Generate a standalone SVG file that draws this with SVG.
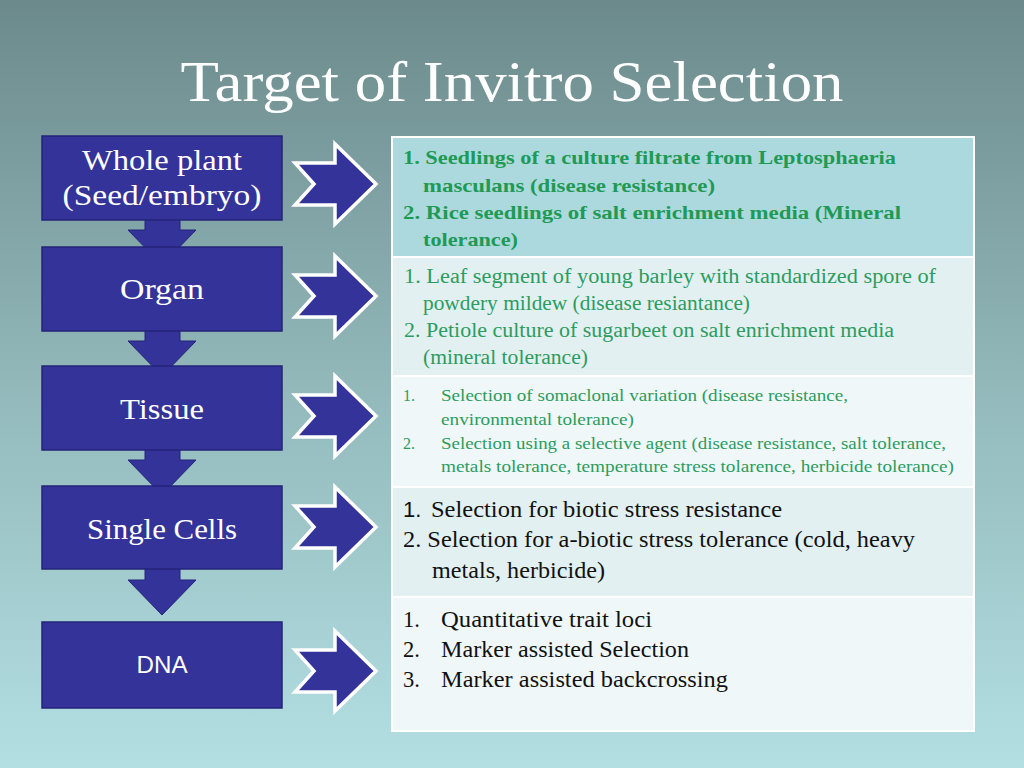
<svg xmlns="http://www.w3.org/2000/svg" width="1024" height="768" viewBox="0 0 1024 768">
<defs>
<linearGradient id="bg" x1="0" y1="0" x2="0" y2="1">
<stop offset="0" stop-color="#6c8a8c"/>
<stop offset="0.5" stop-color="#92b8ba"/>
<stop offset="1" stop-color="#b3dfe3"/>
</linearGradient>
<style>
.box{fill:#333399;stroke:#24247a;stroke-width:1.5}
.down{fill:#333399;stroke:#24247a;stroke-width:1}
.rarr{fill:#333399;stroke:#ffffff;stroke-width:3.5;stroke-linejoin:miter}
.lbl{font-family:"Liberation Serif",serif;font-size:30px;fill:#ffffff;text-anchor:middle}
.lbls{font-family:"Liberation Sans",sans-serif;font-size:23px;fill:#ffffff;text-anchor:middle}
.g1{font-family:"Liberation Serif",serif;font-size:19px;font-weight:bold;fill:#1f9a55}
.g2{font-family:"Liberation Serif",serif;font-size:20px;fill:#2c9c60}
.g3{font-family:"Liberation Serif",serif;font-size:16px;fill:#2c9c60}
.k{font-family:"Liberation Serif",serif;font-size:22.5px;fill:#111111}
.ks{font-family:"Liberation Sans",sans-serif;font-size:22px;fill:#111111}
.cell{stroke:#ffffff;stroke-width:2}
</style>
</defs>
<rect x="0" y="0" width="1024" height="768" fill="url(#bg)"/>
<text x="512" y="101" font-family="Liberation Serif, serif" font-size="57" fill="#ffffff" text-anchor="middle" textLength="663" lengthAdjust="spacingAndGlyphs">Target of Invitro Selection</text>

<g id="connectors">
<polygon class="down" points="145,219 180,219 180,230 196,230 162,265 128,230 145,230"/>
<polygon class="down" points="145,330 180,330 180,341 196,341 162,376 128,341 145,341"/>
<polygon class="down" points="145,449 180,449 180,460 196,460 162,495 128,460 145,460"/>
<polygon class="down" points="145,568 180,568 180,580 196,580 162,615 128,580 145,580"/>
<polygon class="rarr" points="295,163 335,163 335,144 376,184 335,224 335,205 295,205 314,184"/>
<polygon class="rarr" points="295,275 335,275 335,256 376,296 335,336 335,317 295,317 314,296"/>
<polygon class="rarr" points="295,395 335,395 335,376 376,416 335,456 335,437 295,437 314,416"/>
<polygon class="rarr" points="295,506 335,506 335,487 376,527 335,567 335,548 295,548 314,527"/>
<polygon class="rarr" points="295,650 335,650 335,631 376,671 335,711 335,692 295,692 314,671"/>
</g>

<g id="node-whole-plant">
<rect class="box" x="42" y="136" width="240" height="84"/>
<text class="lbl" x="162" y="170" textLength="160" lengthAdjust="spacingAndGlyphs">Whole plant</text>
<text class="lbl" x="162" y="205" textLength="199" lengthAdjust="spacingAndGlyphs">(Seed/embryo)</text>
</g>
<g id="node-organ">
<rect class="box" x="42" y="247" width="240" height="84"/>
<text class="lbl" x="162" y="299" textLength="84" lengthAdjust="spacingAndGlyphs">Organ</text>
</g>
<g id="node-tissue">
<rect class="box" x="42" y="366" width="240" height="84"/>
<text class="lbl" x="162" y="419" textLength="84" lengthAdjust="spacingAndGlyphs">Tissue</text>
</g>
<g id="node-single-cells">
<rect class="box" x="42" y="486" width="240" height="83"/>
<text class="lbl" x="162" y="539" textLength="150" lengthAdjust="spacingAndGlyphs">Single Cells</text>
</g>
<g id="node-dna">
<rect class="box" x="42" y="622" width="240" height="86"/>
<text class="lbls" x="162" y="673" textLength="51" lengthAdjust="spacingAndGlyphs">DNA</text>
</g>

<g id="table">
<rect class="cell" x="392" y="137" width="582" height="120" fill="#acd9dd"/>
<rect class="cell" x="392" y="257" width="582" height="119" fill="#e2f0f1"/>
<rect class="cell" x="392" y="376" width="582" height="111" fill="#eff7f8"/>
<rect class="cell" x="392" y="487" width="582" height="110" fill="#e2f0f1"/>
<rect class="cell" x="392" y="597" width="582" height="134" fill="#eff7f8"/>
</g>

<g id="row-whole-plant">
<text class="g1" x="403" y="164" textLength="493" lengthAdjust="spacingAndGlyphs">1. Seedlings of  a culture filtrate from Leptosphaeria</text>
<text class="g1" x="423" y="192" textLength="292" lengthAdjust="spacingAndGlyphs">masculans (disease resistance)</text>
<text class="g1" x="403" y="219" textLength="498" lengthAdjust="spacingAndGlyphs">2. Rice seedlings of  salt enrichment media (Mineral</text>
<text class="g1" x="423" y="246" textLength="95" lengthAdjust="spacingAndGlyphs">tolerance)</text>
</g>
<g id="row-organ">
<text class="g2" x="404" y="283" textLength="532" lengthAdjust="spacingAndGlyphs">1. Leaf  segment of  young barley  with standardized spore of</text>
<text class="g2" x="423" y="310" textLength="327" lengthAdjust="spacingAndGlyphs">powdery mildew (disease resiantance)</text>
<text class="g2" x="404" y="337" textLength="490" lengthAdjust="spacingAndGlyphs">2. Petiole culture of  sugarbeet on salt enrichment media</text>
<text class="g2" x="423" y="364" textLength="165" lengthAdjust="spacingAndGlyphs">(mineral tolerance)</text>
</g>
<g id="row-tissue">
<text class="g3" x="403" y="401">1.</text>
<text class="g3" x="441" y="401" textLength="407" lengthAdjust="spacingAndGlyphs">Selection of  somaclonal variation (disease resistance,</text>
<text class="g3" x="441" y="425" textLength="193" lengthAdjust="spacingAndGlyphs">environmental tolerance)</text>
<text class="g3" x="403" y="449">2.</text>
<text class="g3" x="441" y="449" textLength="505" lengthAdjust="spacingAndGlyphs">Selection using a selective agent (disease resistance, salt tolerance,</text>
<text class="g3" x="441" y="472" textLength="513" lengthAdjust="spacingAndGlyphs">metals tolerance, temperature stress tolarence, herbicide tolerance)</text>
</g>
<g id="row-single-cells">
<text class="ks" x="403" y="517">1.</text>
<text class="k" x="431" y="517" textLength="351" lengthAdjust="spacingAndGlyphs">Selection for biotic stress resistance</text>
<text class="k" x="403" y="547" textLength="512" lengthAdjust="spacingAndGlyphs">2. Selection for a-biotic stress tolerance (cold, heavy</text>
<text class="k" x="432" y="578" textLength="173" lengthAdjust="spacingAndGlyphs">metals, herbicide)</text>
</g>
<g id="row-dna">
<text class="k" x="403" y="627">1.</text>
<text class="k" x="441" y="627" textLength="211" lengthAdjust="spacingAndGlyphs">Quantitative trait loci</text>
<text class="k" x="403" y="657">2.</text>
<text class="k" x="441" y="657" textLength="248" lengthAdjust="spacingAndGlyphs">Marker assisted Selection</text>
<text class="k" x="403" y="687">3.</text>
<text class="k" x="441" y="687" textLength="287" lengthAdjust="spacingAndGlyphs">Marker assisted backcrossing</text>
</g>
</svg>
